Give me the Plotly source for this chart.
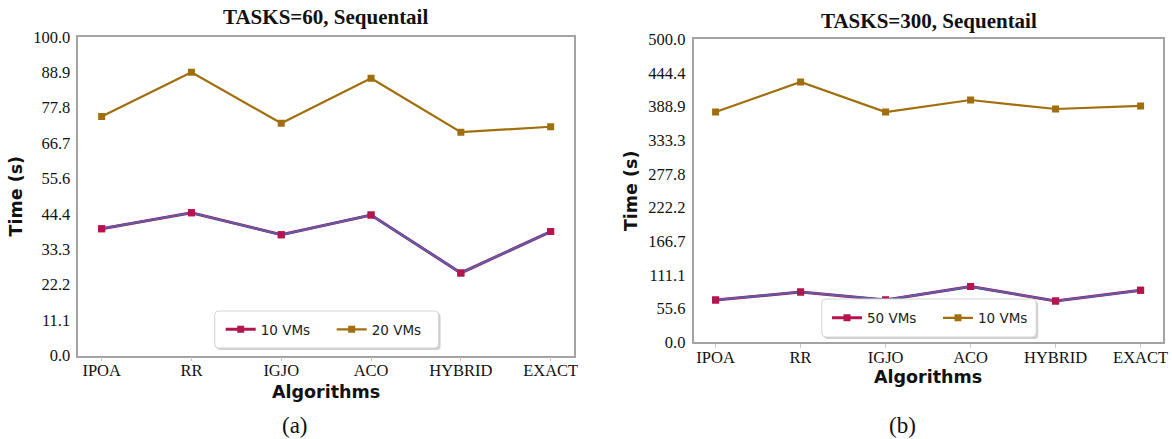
import numpy as np
import plotly.graph_objects as go

W, H = 1172, 439

algorithms = ["IPOA", "RR", "IGJO", "ACO", "HYBRID", "EXACT"]

# TASKS=60 run times (s)
t60_10vms = [39.8, 44.8, 37.9, 44.1, 25.9, 38.9]
t60_20vms = [75.0, 88.9, 72.9, 87.0, 70.1, 71.8]

# TASKS=300 run times (s)
t300_50vms = [69.8, 83.0, 70.0, 92.0, 68.2, 85.8]
t300_10vms = [380.0, 429.5, 380.0, 399.8, 385.0, 390.0]

y_ticks_60 = np.linspace(0, 100, 10)
y_ticks_300 = np.linspace(0, 500, 10)

CRIMSON = "#B5154F"
PURPLE = "#5B5DA6"
BROWN = "#A06E0B"
FRAME = "#A3A3A3"
SERIF = "Liberation Serif"
SANS = "DejaVu Sans"


def px_x(v):
    return v / W


def px_y(v):
    return 1 - v / H


fig = go.Figure()

# panel geometry in pixels
P1 = dict(x0=78.3, x1=574.0, y0=36.9, y1=355.5)
P2 = dict(x0=693.5, x1=1162.7, y0=39.3, y1=342.3)


def add_pair(xa, ya, low, high, low_name, high_name, leg_low, leg_high):
    # lower series: crimson underlay carrying the legend entry
    fig.add_trace(go.Scatter(
        x=algorithms, y=low, name=low_name, mode="lines+markers",
        line=dict(color=CRIMSON, width=3.0),
        marker=dict(symbol="square", size=7, color=CRIMSON),
        xaxis=xa, yaxis=ya, legend=leg_low, showlegend=True))
    fig.add_trace(go.Scatter(
        x=algorithms, y=low, mode="lines",
        line=dict(color=PURPLE, width=2.2),
        xaxis=xa, yaxis=ya, showlegend=False, hoverinfo="skip"))
    fig.add_trace(go.Scatter(
        x=algorithms, y=low, mode="markers",
        marker=dict(symbol="square", size=7, color=CRIMSON),
        xaxis=xa, yaxis=ya, showlegend=False, hoverinfo="skip"))
    fig.add_trace(go.Scatter(
        x=algorithms, y=high, name=high_name, mode="lines+markers",
        line=dict(color=BROWN, width=2.2),
        marker=dict(symbol="square", size=7, color=BROWN),
        xaxis=xa, yaxis=ya, legend=leg_high, showlegend=True))


add_pair("x", "y", t60_10vms, t60_20vms, "10 VMs", "20 VMs", "legend", "legend2")
add_pair("x2", "y2", t300_50vms, t300_10vms, "50 VMs", "10 VMs", "legend3", "legend4")

tickfont = dict(family=SERIF, size=16.5, color="#111")
titlefont = dict(family=SANS, size=17.5, color="#111", weight="bold")


def xaxis(p, anchor):
    return dict(
        domain=[px_x(p["x0"]), px_x(p["x1"])], anchor=anchor, automargin=False,
        type="category", range=[-0.26, 5.26],
        showline=True, mirror=True, linecolor=FRAME, linewidth=1.5,
        ticks="outside", ticklen=4, tickcolor="#C8C8C8", tickwidth=1,
        ticklabelstandoff=-5,
        showgrid=False, zeroline=False, tickfont=tickfont,
    )


def yaxis(p, anchor, ticks, top):
    return dict(
        domain=[px_y(p["y1"]), px_y(p["y0"])], anchor=anchor, automargin=False,
        range=[0, top], tickvals=ticks, tickformat=".1f",
        showline=True, mirror=True, linecolor=FRAME, linewidth=1.5,
        ticks="", showgrid=False, zeroline=False, tickfont=tickfont,
        ticklabelstandoff=3,
        title=dict(text="Time (s)", font=titlefont, standoff=6),
    )


legend_font = dict(family=SANS, size=13.5, color="#222")


def legend_at(x_px, y_px):
    return dict(
        x=px_x(x_px), y=px_y(y_px), xanchor="left", yanchor="middle",
        xref="paper", yref="paper", orientation="h",
        bgcolor="rgba(0,0,0,0)", borderwidth=0, font=legend_font,
        itemwidth=30,
    )


shapes = []
for (bx0, bx1, by0, by1) in [(214.7, 438.6, 311.0, 348.0), (821.8, 1036.2, 299.0, 337.0)]:
    r = 4
    def rounded(x0, x1, y0, y1):
        return (f"M {px_x(x0 + r)} {px_y(y0)} L {px_x(x1 - r)} {px_y(y0)} "
                f"Q {px_x(x1)} {px_y(y0)} {px_x(x1)} {px_y(y0 + r)} "
                f"L {px_x(x1)} {px_y(y1 - r)} Q {px_x(x1)} {px_y(y1)} {px_x(x1 - r)} {px_y(y1)} "
                f"L {px_x(x0 + r)} {px_y(y1)} Q {px_x(x0)} {px_y(y1)} {px_x(x0)} {px_y(y1 - r)} "
                f"L {px_x(x0)} {px_y(y0 + r)} Q {px_x(x0)} {px_y(y0)} {px_x(x0 + r)} {px_y(y0)} Z")
    shapes.append(dict(type="path", xref="paper", yref="paper", layer="above",
                       path=rounded(bx0 + 2, bx1 + 2, by0 + 2, by1 + 2),
                       fillcolor="rgba(150,150,150,0.45)", line=dict(width=0)))
    shapes.append(dict(type="path", xref="paper", yref="paper", layer="above",
                       path=rounded(bx0, bx1, by0, by1),
                       fillcolor="white", line=dict(color="#D4D4D4", width=1)))


def label(text, x, y, font):
    return dict(text=text, x=px_x(x), y=px_y(y), xref="paper", yref="paper",
                showarrow=False, font=font, xanchor="center", yanchor="middle")


title_font = dict(family=SERIF, size=21, color="#111")
caption_font = dict(family=SERIF, size=23, color="#111")

annotations = [
    label("<b>TASKS=60, Sequentail</b>", 326.0, 17, title_font),
    label("<b>TASKS=300, Sequentail</b>", 929.0, 21, title_font),
    label("Algorithms", 326.0, 392.0, titlefont),
    label("Algorithms", 928.0, 377.0, titlefont),
    label("(a)", 295, 425, caption_font),
    label("(b)", 902, 425, caption_font),
]

fig.update_layout(
    template="none",
    width=W, height=H, margin=dict(l=0, r=0, t=0, b=0, pad=0),
    paper_bgcolor="white", plot_bgcolor="white",
    xaxis=xaxis(P1, "y"), yaxis=yaxis(P1, "x", y_ticks_60, 100),
    xaxis2=xaxis(P2, "y2"), yaxis2=yaxis(P2, "x2", y_ticks_300, 500),
    legend=legend_at(220.7, 329.5), legend2=legend_at(331.7, 329.5),
    legend3=legend_at(827.0, 318.0), legend4=legend_at(938.0, 318.0),
    shapes=shapes, annotations=annotations,
)

fig.write_html("out.html")
